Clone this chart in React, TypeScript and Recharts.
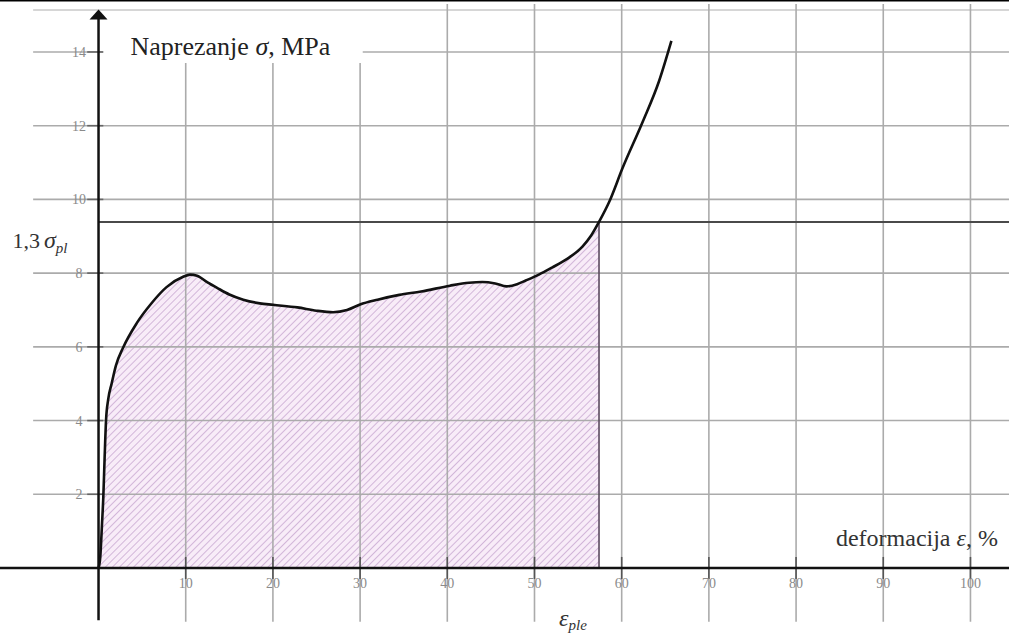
import React from "react";
import {
  ComposedChart,
  Line,
  Area,
  XAxis,
  YAxis,
  ReferenceLine,
  ReferenceDot,
} from "recharts";

// strain in %, stress in MPa
const strain = [
  0, 0.2, 0.4, 0.55, 0.7, 0.86, 1.1, 1.5, 2.0, 2.8, 4.4, 6.1, 7.8, 9.7, 10.5,
  11.3, 12.5, 13.6, 15.0, 16.6, 18.5, 20.0, 22.8, 25.0, 26.9, 28.5, 30.0, 32.0,
  34.5, 37.0, 40.3, 42.5, 44.0, 45.5, 46.8, 48.0, 49.0, 50.5, 52.0, 53.7, 55.5,
  56.5, 57.4, 58.6, 60.1, 62.4, 64.3, 65.7,
];
const stress = [
  0, 0.3, 1.2, 1.93, 3.0, 4.0, 4.56, 5.0, 5.5, 5.97, 6.65, 7.19, 7.62, 7.9, 7.96,
  7.93, 7.75, 7.6, 7.42, 7.28, 7.18, 7.14, 7.07, 6.98, 6.94, 7.0, 7.15, 7.28,
  7.41, 7.5, 7.66, 7.74, 7.76, 7.72, 7.64, 7.7, 7.8, 7.96, 8.15, 8.38, 8.72,
  9.02, 9.39, 9.95, 10.85, 12.1, 13.22, 14.3,
];

const xTicks = [10, 20, 30, 40, 50, 60, 70, 80, 90, 100];
const yTicks = [2, 4, 6, 8, 10, 12, 14];

const SIGMA_13 = 9.39; // 1,3 sigma_pl
const EPS_PLE = 57.4;

const X_DOMAIN: [number, number] = [-11.3, 104.42];
const Y_DOMAIN: [number, number] = [-1.872, 15.41];

const serif = "'Liberation Serif', 'DejaVu Serif', serif";
const gridColor = "#ababab";

const data = strain.map((x, i) => ({
  x,
  sigma: stress[i],
  hatch: x <= EPS_PLE ? stress[i] : null,
}));

export default function App() {
  return (
    <div style={{ position: "absolute", left: 0, top: 0, background: "#fff" }}>
      <ComposedChart
        width={1009}
        height={637}
        data={data}
        margin={{ top: 0, right: 0, bottom: 0, left: 0 }}
      >
        <defs>
          <pattern
            id="hatch"
            patternUnits="userSpaceOnUse"
            width={5}
            height={5}
            patternTransform="rotate(45)"
          >
            <rect width={5} height={5} fill="#f8ecf8" />
            <line x1={0} y1={0} x2={0} y2={5} stroke="#c9a9d2" strokeWidth={1.6} />
          </pattern>
        </defs>
        <XAxis type="number" dataKey="x" domain={X_DOMAIN} hide allowDataOverflow />
        <YAxis type="number" domain={Y_DOMAIN} hide allowDataOverflow />

        <Area
          dataKey="hatch"
          type="monotone"
          fill="url(#hatch)"
          fillOpacity={1}
          stroke="none"
          baseValue={0}
          isAnimationActive={false}
          activeDot={false}
        />

        {/* frame at the top */}
        <ReferenceLine y={Y_DOMAIN[1]} stroke="#000" strokeWidth={3} />
        <ReferenceLine
          segment={[{ x: -7.5, y: 15.14 }, { x: X_DOMAIN[1], y: 15.14 }]}
          stroke="#d6d6d6"
          strokeWidth={2}
        />

        {/* tick labels */}
        {xTicks.map((t) => (
          <ReferenceDot
            key={`xl-${t}`}
            x={t}
            y={-0.41}
            r={1}
            fill="none"
            stroke="none"
            label={{ value: t, position: "center", fill: "#8a8a8a", fontSize: 14, fontFamily: serif }}
          />
        ))}
        {yTicks.map((t) => (
          <ReferenceDot
            key={`yl-${t}`}
            x={-2.25}
            y={t}
            r={1}
            fill="none"
            stroke="none"
            label={{ value: t, position: "center", fill: "#8a8a8a", fontSize: 14, fontFamily: serif }}
          />
        ))}

        {/* grid */}
        {xTicks.map((t) => (
          <ReferenceLine
            key={`gx-${t}`}
            segment={[{ x: t, y: -1.46 }, { x: t, y: t <= 30 ? 13.7 : 15.3 }]}
            stroke={gridColor}
            strokeWidth={1.6}
          />
        ))}
        {yTicks.map((t) =>
          t === 14 ? (
            <React.Fragment key={`gy-${t}`}>
              <ReferenceLine segment={[{ x: -7.5, y: t }, { x: 0.5, y: t }]} stroke={gridColor} strokeWidth={1.6} />
              <ReferenceLine segment={[{ x: 30.3, y: t }, { x: X_DOMAIN[1], y: t }]} stroke={gridColor} strokeWidth={1.6} />
            </React.Fragment>
          ) : (
            <ReferenceLine
              key={`gy-${t}`}
              segment={[{ x: -7.5, y: t }, { x: X_DOMAIN[1], y: t }]}
              stroke={gridColor}
              strokeWidth={1.6}
            />
          )
        )}

        {/* tick marks on the axes */}
        {xTicks.map((t) => (
          <ReferenceLine key={`tx-${t}`} segment={[{ x: t, y: -0.3 }, { x: t, y: 0.3 }]} stroke="#555" strokeWidth={1.6} />
        ))}
        {yTicks.map((t) => (
          <ReferenceLine key={`ty-${t}`} segment={[{ x: -1.3, y: t }, { x: 0.55, y: t }]} stroke="#666" strokeWidth={1.6} />
        ))}

        {/* 1,3 sigma_pl level */}
        <ReferenceLine
          segment={[{ x: 0, y: SIGMA_13 }, { x: X_DOMAIN[1], y: SIGMA_13 }]}
          stroke="#4a4a4a"
          strokeWidth={2}
          label={(p: any) => (
            <text x={p.viewBox.x - 86} y={p.viewBox.y + 26} fontFamily={serif} fontSize={22} fill="#333">
              1,3
              <tspan dx={4} fontStyle="italic" fontSize={24}>σ</tspan>
              <tspan fontStyle="italic" fontSize={15} dy={5}>pl</tspan>
            </text>
          )}
        />

        {/* eps_ple boundary */}
        <ReferenceLine
          segment={[{ x: EPS_PLE, y: 0 }, { x: EPS_PLE, y: SIGMA_13 }]}
          stroke="#5b4b5f"
          strokeWidth={1.6}
          label={(p: any) => (
            <text x={p.viewBox.x - 40} y={p.viewBox.y + p.viewBox.height + 58} fontFamily={serif} fill="#333" fontStyle="italic">
              <tspan fontSize={24}>ε</tspan>
              <tspan fontSize={15} dy={4}>ple</tspan>
            </text>
          )}
        />

        {/* axes */}
        <ReferenceLine
          y={0}
          stroke="#111"
          strokeWidth={2.5}
          label={(p: any) => (
            <text
              x={p.viewBox.x + p.viewBox.width - 11}
              y={p.viewBox.y - 22}
              textAnchor="end"
              fontFamily={serif}
              fontSize={24}
              fill="#333"
            >
              deformacija <tspan fontStyle="italic">ε</tspan>, %
            </text>
          )}
        />
        <ReferenceLine
          segment={[{ x: 0, y: -1.42 }, { x: 0, y: 15.0 }]}
          stroke="#111"
          strokeWidth={2.5}
          label={(p: any) => (
            <text x={p.viewBox.x + 32} y={p.viewBox.y + 40} fontFamily={serif} fontSize={26} fill="#222">
              Naprezanje <tspan fontStyle="italic">σ</tspan>, MPa
            </text>
          )}
        />
        <ReferenceDot
          x={0}
          y={15.15}
          r={1}
          ifOverflow="visible"
          shape={(p: any) => (
            <polygon
              points={`${p.cx},${p.cy} ${p.cx - 9},${p.cy + 10} ${p.cx + 9},${p.cy + 10}`}
              fill="#111"
            />
          )}
        />

        <Line
          dataKey="sigma"
          type="monotone"
          stroke="#111"
          strokeWidth={2.6}
          dot={false}
          activeDot={false}
          isAnimationActive={false}
        />
      </ComposedChart>
    </div>
  );
}
